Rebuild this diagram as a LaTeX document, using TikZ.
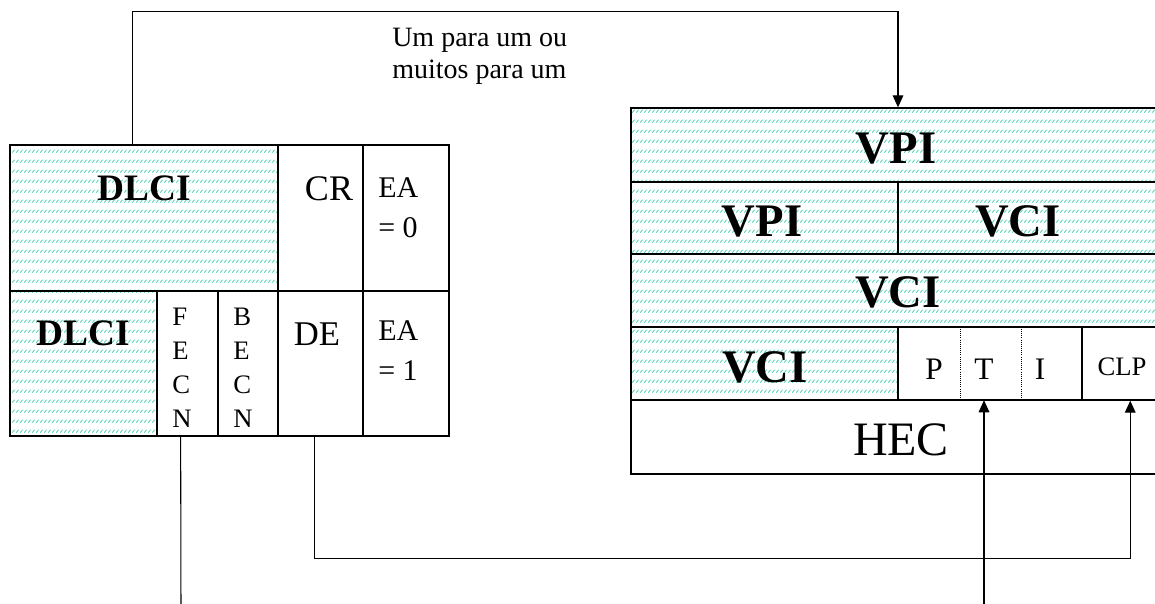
\documentclass[tikz,border=0pt]{standalone}
\usepackage{fontspec}
\setmainfont{Liberation Serif}
\usetikzlibrary{arrows.meta,positioning,calc,fit,patterns.meta}
\definecolor{hatchgreen}{RGB}{40,205,165}
\tikzdeclarepattern{name=wordhatch, type=uncolored,
  bounding box={(0pt,0pt) and (3pt,7.5pt)}, tile size={(3pt,7.5pt)},
  code={\draw[line width=0.6pt] (0.3pt,0.4pt) -- (2.4pt,2.6pt);}}

\begin{document}
\begin{tikzpicture}[x=0.75pt, y=-0.75pt,
  cell/.style={draw, line width=1pt, inner sep=0pt},
  hatched/.style={cell, pattern=wordhatch, pattern color=hatchgreen},
  blank/.style={inner sep=0pt},
  sep/.style={densely dotted, line width=0.6pt},
  link/.style={line width=0.8pt},
  arrow/.style={link, -{Triangle[length=9pt, width=8pt]}},
  lbl/.style={inner sep=0pt, anchor=base},
  big/.style={lbl, font=\fontsize{35}{40}\selectfont\bfseries},
  mid/.style={lbl, font=\fontsize{28}{32}\selectfont\bfseries}]
  \useasboundingbox (0,0) rectangle (1155,603);

  % Frame Relay address field
  \node[hatched, fit={(10,145) (278,291)}] (dlciA) {};
  \node[cell, fit={(278,145) (363,291)}] (cr) {};
  \node[cell, fit={(363,145) (449,291)}] (eaA) {};
  \node[hatched, fit={(10,291) (157,436)}] (dlciB) {};
  \node[cell, fit={(157,291) (218,436)}] (fecn) {};
  \node[cell, fit={(218,291) (278,436)}] (becn) {};
  \node[cell, fit={(278,291) (363,436)}] (de) {};
  \node[cell, fit={(363,291) (449,436)}] (eaB) {};

  \node[mid] (dlciAtxt) at (144,200) {DLCI};
  \node[lbl, font=\fontsize{27}{30}\selectfont] (crtxt) at (329,200) {CR};
  \node[inner sep=0pt, anchor=north west, align=left, font=\fontsize{22.5}{30}\selectfont] (eaAtxt) at (378,177) {EA\\= 0};
  \node[mid] (dlciBtxt) at (83,345) {DLCI};
  \node[inner sep=0pt, anchor=north west, align=left, font=\fontsize{20}{25.5}\selectfont] (fecntxt) at (172,308) {F\\E\\C\\N};
  \node[inner sep=0pt, anchor=north west, align=left, font=\fontsize{20}{25.5}\selectfont] (becntxt) at (233,308) {B\\E\\C\\N};
  \node[lbl, font=\fontsize{26}{30}\selectfont] (detxt) at (317,345) {DE};
  \node[inner sep=0pt, anchor=north west, align=left, font=\fontsize{22.5}{30}\selectfont] (eaBtxt) at (378,320) {EA\\= 1};

  % ATM cell header
  \node[hatched, fit={(631,108) (1165,182)}] (vpiA) {};
  \node[hatched, fit={(631,182) (898,254)}] (vpiB) {};
  \node[hatched, fit={(898,182) (1165,254)}] (vciA) {};
  \node[hatched, fit={(631,254) (1165,327)}] (vciB) {};
  \node[hatched, fit={(631,327) (898,400)}] (vciC) {};
  \node[blank, fit={(898,327) (960,400)}] (p) {};
  \node[blank, fit={(960,327) (1021,400)}] (t) {};
  \node[blank, fit={(1021,327) (1082,400)}] (i) {};
  \node[cell, fit={(1082,327) (1165,400)}] (clp) {};
  \node[cell, fit={(631,400) (1165,474)}] (hec) {};
  \draw[sep] (p.north east) -- (p.south east);
  \draw[sep] (t.north east) -- (t.south east);

  \node[big] (vpiAtxt) at (896,163) {VPI};
  \node[big] (vpiBtxt) at (762,236) {VPI};
  \node[big] (vciAtxt) at (1018,236) {VCI};
  \node[big] (vciBtxt) at (898,307) {VCI};
  \node[big] (vciCtxt) at (765,382) {VCI};
  \node[lbl, font=\fontsize{23.5}{30}\selectfont] (ptxt) at (934,379) {P};
  \node[lbl, font=\fontsize{23.5}{30}\selectfont] (ttxt) at (984,379) {T};
  \node[lbl, font=\fontsize{23.5}{30}\selectfont] (itxt) at (1040,379) {I};
  \node[lbl, font=\fontsize{20}{24}\selectfont] (clptxt) at (1122,375) {CLP};
  \node[lbl, font=\fontsize{36}{44}\selectfont] (hectxt) at (901,455) {HEC};

  \node[inner sep=0pt, anchor=north west, align=left, font=\fontsize{21}{24}\selectfont] (mapping) at (392,28) {Um para um ou\\muitos para um};

  % connectors
  \coordinate (fecnEnd) at (181,612);
  \coordinate (tStart) at (984,612);
  \draw[arrow] ($(dlciA.north west)!0.459!(dlciA.north east)$) |- ($(vpiA.north)+(0,-96)$) -- (vpiA.north);
  \draw[link] ($(fecn.south west)!0.39!(fecn.south east)$) -- (fecnEnd);
  \draw[arrow] ($(de.south west)!0.43!(de.south east)$) -- ++(0,122) -| ($(clp.south west)!0.58!(clp.south east)$);
  \draw[arrow] (tStart) -- (tStart |- t.south);
\end{tikzpicture}
\end{document}
